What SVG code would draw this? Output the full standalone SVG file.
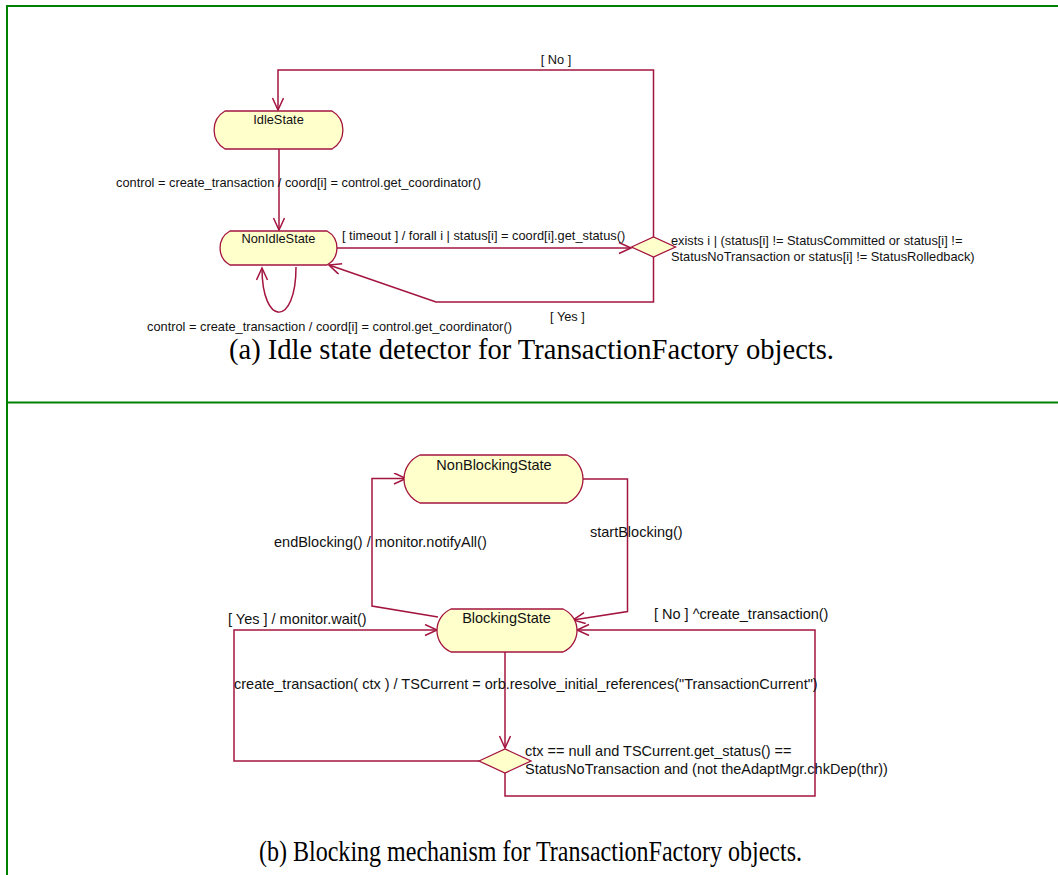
<svg xmlns="http://www.w3.org/2000/svg" width="1058" height="875" viewBox="0 0 1058 875">
<style>
.frame{stroke:#008000;stroke-width:2;fill:none}
.node{fill:#ffffcc;stroke:#a3143f;stroke-width:1.3}
.edge{fill:none;stroke:#a3143f;stroke-width:1.5}
.t{font-family:"Liberation Sans",Arial,sans-serif;fill:#111}
.ta{font-size:12.8px}
.tb{font-size:14.5px}
.cap{font-family:"Liberation Serif","Times New Roman",serif;fill:#000;font-size:28.5px}
</style>
<defs>
<marker id="arr" markerUnits="userSpaceOnUse" markerWidth="16" markerHeight="14" refX="13" refY="6" orient="auto">
<path d="M1,0.5 L13,6 L1,11.5" fill="none" stroke="#a3143f" stroke-width="1.5"/>
</marker>
</defs>
<rect width="1058" height="875" fill="#fff"/>
<g id="frame">
<line class="frame" x1="6" y1="6" x2="1058" y2="6"/>
<line class="frame" x1="7" y1="5" x2="7" y2="875"/>
<line class="frame" x1="7" y1="402.5" x2="1058" y2="402.5"/>
</g>
<g id="connectors">
<path class="edge" d="M653.5,237 V70 H278 V110" marker-end="url(#arr)"/>
<path class="edge" d="M279,149 V230" marker-end="url(#arr)"/>
<path class="edge" d="M337,248 H631" marker-end="url(#arr)"/>
<path class="edge" d="M653.5,257 V302 H436 L329,265" marker-end="url(#arr)"/>
<path class="edge" d="M296,267 C296,327 262,327 262,268" marker-end="url(#arr)"/>
<path class="edge" d="M438,617 L372,606 V478.5 H406" marker-end="url(#arr)"/>
<path class="edge" d="M580,479 H627.5 V611.5 L573,620" marker-end="url(#arr)"/>
<path class="edge" d="M505,652 V748" marker-end="url(#arr)"/>
<path class="edge" d="M479,761 H234 V630 H437" marker-end="url(#arr)"/>
<path class="edge" d="M505,773 V796 H815 V630 H577" marker-end="url(#arr)"/>
</g>
<g id="IdleState">
<path class="node" d="M225,111 H332 A22,22 0 0 1 332,149 H225 A22,22 0 0 1 225,111 Z"/>
<text class="t ta" x="278.5" y="124" text-anchor="middle">IdleState</text>
</g>
<g id="NonIdleState">
<path class="node" d="M230,231 H327 A19.5,19.5 0 0 1 327,265 H230 A19.5,19.5 0 0 1 230,231 Z"/>
<text class="t ta" x="278.5" y="242.5" text-anchor="middle">NonIdleState</text>
</g>
<g id="Decision1">
<polygon class="node" points="631.5,247 653.5,237 675.5,247 653.5,257"/>
</g>
<g id="NonBlockingState">
<path class="node" d="M420,455 H567 A26,26 0 0 1 567,503 H420 A26,26 0 0 1 420,455 Z"/>
<text class="t tb" x="494" y="470" text-anchor="middle">NonBlockingState</text>
</g>
<g id="BlockingState">
<path class="node" d="M451,609 H563 A23.5,23.5 0 0 1 563,652 H451 A23.5,23.5 0 0 1 451,609 Z"/>
<text class="t tb" x="506.5" y="623" text-anchor="middle">BlockingState</text>
</g>
<g id="Decision2">
<polygon class="node" points="479,761 505,749 531,761 505,773"/>
</g>
<g id="labels">
<text class="t ta" x="556" y="63.5" text-anchor="middle">[ No ]</text>
<text class="t ta" x="116" y="186.5">control = create_transaction / coord[i] = control.get_coordinator()</text>
<text class="t ta" x="342" y="239.5">[ timeout ] / forall i | status[i] = coord[i].get_status()</text>
<text class="t ta" x="671" y="244.5">exists i | (status[i] != StatusCommitted or status[i] !=</text>
<text class="t ta" x="671" y="260.5">StatusNoTransaction or status[i] != StatusRolledback)</text>
<text class="t ta" x="550" y="321">[ Yes ]</text>
<text class="t ta" x="147" y="330.5">control = create_transaction / coord[i] = control.get_coordinator()</text>
<text class="t tb" x="274" y="547">endBlocking() / monitor.notifyAll()</text>
<text class="t tb" x="590" y="537">startBlocking()</text>
<text class="t tb" x="228" y="624">[ Yes ] / monitor.wait()</text>
<text class="t tb" x="654" y="619">[ No ] ^create_transaction()</text>
<text class="t tb" x="234" y="689">create_transaction( ctx ) / TSCurrent = orb.resolve_initial_references("TransactionCurrent")</text>
<text class="t tb" x="525" y="756">ctx == null and TSCurrent.get_status() ==</text>
<text class="t tb" x="525" y="774">StatusNoTransaction and (not theAdaptMgr.chkDep(thr))</text>
</g>
<g id="captions">
<text class="cap" x="229" y="359" textLength="605" lengthAdjust="spacingAndGlyphs">(a) Idle state detector for TransactionFactory objects.</text>
<text class="cap" x="259" y="861" textLength="543" lengthAdjust="spacingAndGlyphs">(b) Blocking mechanism for TransactionFactory objects.</text>
</g>
</svg>
